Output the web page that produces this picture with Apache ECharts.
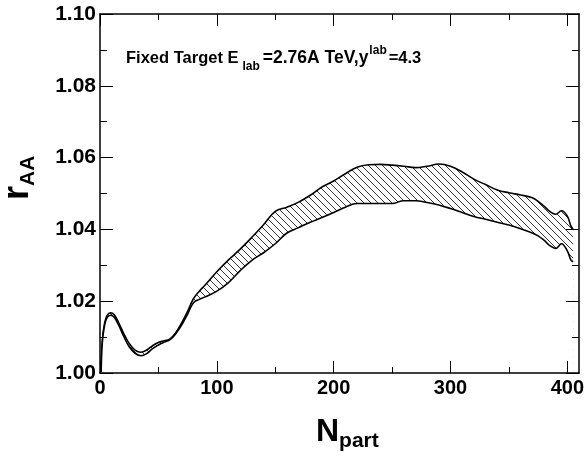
<!DOCTYPE html>
<html>
<head>
<meta charset="utf-8">
<script src="https://cdn.jsdelivr.net/npm/echarts@6/dist/echarts.min.js"></script>
<style>
html,body{margin:0;padding:0;background:#fff;}
#main{width:587px;height:456px;}
</style>
</head>
<body>
<div id="main"></div>
<script>
// ---- data ----
const nPart = [1, 2, 4, 6, 9, 12, 16, 20, 25, 30, 35, 40, 45, 50, 55, 60, 65, 70, 75, 80, 85, 90, 100, 110, 120, 130, 140, 150, 160, 170, 180, 190, 200, 210, 220, 230, 240, 250, 260, 270, 280, 290, 300, 310, 320, 330, 340, 350, 360, 370, 375, 380, 385, 390, 395, 400, 403, 405];
const upperR = [1.0005, 1.0091, 1.0140, 1.0160, 1.0168, 1.0163, 1.0140, 1.0112, 1.0082, 1.0064, 1.0058, 1.0064, 1.0076, 1.0085, 1.0090, 1.0095, 1.0113, 1.0140, 1.0172, 1.0207, 1.0228, 1.0245, 1.0282, 1.0315, 1.0345, 1.0378, 1.0413, 1.0450, 1.0462, 1.0476, 1.0495, 1.0518, 1.0535, 1.0555, 1.0573, 1.0580, 1.0581, 1.0579, 1.0576, 1.0572, 1.0576, 1.0582, 1.0576, 1.0560, 1.0540, 1.0525, 1.0510, 1.0502, 1.0496, 1.0488, 1.0478, 1.0465, 1.0450, 1.0442, 1.0452, 1.0437, 1.0410, 1.0400];
const lowerR = [1.0003, 1.0085, 1.0134, 1.0154, 1.0161, 1.0156, 1.0133, 1.0104, 1.0073, 1.0055, 1.0048, 1.0054, 1.0068, 1.0078, 1.0086, 1.0093, 1.0110, 1.0134, 1.0164, 1.0196, 1.0205, 1.0212, 1.0228, 1.0252, 1.0285, 1.0314, 1.0335, 1.0360, 1.0390, 1.0405, 1.0420, 1.0433, 1.0447, 1.0462, 1.0472, 1.0472, 1.0472, 1.0472, 1.0480, 1.0480, 1.0475, 1.0468, 1.0458, 1.0447, 1.0436, 1.0428, 1.0420, 1.0412, 1.0402, 1.0390, 1.0382, 1.0370, 1.0355, 1.0347, 1.0360, 1.0340, 1.0315, 1.0310];
const xMajorTicks = [0, 100, 200, 300, 400];
const xMinorTicks = [50, 150, 250, 350];

const FONT = '"Liberation Sans", Arial, Helvetica, sans-serif';

// hatch pattern
function hatch() {
  const s = 7;
  const c = document.createElement('canvas');
  c.width = s; c.height = s;
  const g = c.getContext('2d');
  g.strokeStyle = '#000';
  g.lineWidth = 0.8;
  g.beginPath();
  g.moveTo(-1, -1); g.lineTo(s + 1, s + 1);
  g.moveTo(-1, s - 1); g.lineTo(1, s + 1);
  g.moveTo(s - 1, -1); g.lineTo(s + 1, 1);
  g.stroke();
  return c;
}

const upperData = nPart.map((n, i) => [n, upperR[i]]);
const lowerData = nPart.map((n, i) => [n, lowerR[i]]);

const chart = echarts.init(document.getElementById('main'), null, { renderer: 'canvas' });
const axisLineStyle = { color: '#000', width: 1.5 };
const labelStyle = { color: '#000', fontFamily: FONT, fontWeight: 'bold', fontSize: 20 };
const tickStyle = { color: '#000', width: 1 };

function rich(mainSize, lh, extra) {
  const r = {
    m: { fontFamily: FONT, fontWeight: 'bold', fontSize: mainSize, lineHeight: lh, verticalAlign: 'middle', fill: '#000' }
  };
  Object.keys(extra).forEach(k => { r[k] = Object.assign({ fontFamily: FONT, fontWeight: 'bold', fill: '#000' }, extra[k]); });
  return r;
}

chart.setOption({
  animation: false,
  backgroundColor: '#fff',
  grid: { left: 100, right: 6, top: 14, bottom: 83, containLabel: false },
  xAxis: [
    { type: 'value', position: 'bottom', min: 0, max: 410, z: 10,
      axisLine: { show: true, onZero: false, lineStyle: axisLineStyle },
      axisTick: { show: true, inside: true, length: 12, customValues: xMajorTicks, lineStyle: tickStyle },
      axisLabel: { show: true, customValues: xMajorTicks, margin: 5, ...labelStyle, formatter: v => String(v) },
      splitLine: { show: false } },
    { type: 'value', position: 'bottom', min: 0, max: 410, z: 10,
      axisLine: { show: false },
      axisTick: { show: true, inside: true, length: 6, customValues: xMinorTicks, lineStyle: tickStyle },
      axisLabel: { show: false }, splitLine: { show: false } },
    { type: 'value', position: 'top', min: 0, max: 410, z: 10,
      axisLine: { show: true, onZero: false, lineStyle: axisLineStyle },
      axisTick: { show: true, inside: true, length: 12, customValues: xMajorTicks, lineStyle: tickStyle },
      axisLabel: { show: false }, splitLine: { show: false } },
    { type: 'value', position: 'top', min: 0, max: 410, z: 10,
      axisLine: { show: false },
      axisTick: { show: true, inside: true, length: 6, customValues: xMinorTicks, lineStyle: tickStyle },
      axisLabel: { show: false }, splitLine: { show: false } }
  ],
  yAxis: [
    { type: 'value', position: 'left', min: 1.0, max: 1.1, interval: 0.02, z: 10,
      axisLine: { show: true, onZero: false, lineStyle: axisLineStyle },
      axisTick: { show: true, inside: true, length: 13, lineStyle: tickStyle },
      minorTick: { show: true, splitNumber: 2, length: 7, lineStyle: tickStyle },
      axisLabel: { show: true, margin: 4, ...labelStyle, fontSize: 21, padding: [5, 0, 0, 0], formatter: v => v.toFixed(2) },
      splitLine: { show: false } },
    { type: 'value', position: 'right', min: 1.0, max: 1.1, interval: 0.02, z: 10,
      axisLine: { show: true, onZero: false, lineStyle: axisLineStyle },
      axisTick: { show: true, inside: true, length: 13, lineStyle: tickStyle },
      minorTick: { show: true, splitNumber: 2, length: 7, lineStyle: tickStyle },
      axisLabel: { show: false }, splitLine: { show: false } }
  ],
  series: [
    { type: 'line', name: 'upper', data: upperData, smooth: 0.4, z: 2,
      symbol: 'none', lineStyle: { color: '#000', width: 1.6 },
      areaStyle: { color: { image: hatch(), repeat: 'repeat' }, opacity: 1, origin: 'start' } },
    { type: 'line', name: 'lower', data: lowerData, smooth: 0.4, z: 3,
      symbol: 'none', lineStyle: { color: '#000', width: 1.6 },
      areaStyle: { color: '#fff', opacity: 1, origin: 'start' } }
  ],
  graphic: [
    { type: 'text', x: 126, y: 43, z: 20,
      style: {
        text: '{m|Fixed Target E}{sb|lab}{w|=2.76A TeV,y}{sp|lab}{m|=4.3}',
        rich: rich(16.5, 30, {
          w: { fontSize: 17.5, lineHeight: 30, verticalAlign: 'middle' },
          sb: { fontSize: 12, lineHeight: 12, verticalAlign: 'bottom', padding: [0, 3, 0, 4] },
          sp: { fontSize: 12, lineHeight: 12, verticalAlign: 'top', padding: [2, 2, 0, 1] }
        })
      } },
    { type: 'text', x: -4, y: 200, rotation: Math.PI / 2, z: 20,
      style: {
        text: '{m|r}{sb|AA}',
        rich: rich(36, 44, {
          sb: { fontSize: 21, lineHeight: 21, verticalAlign: 'bottom', padding: [0, 0, 1, 0] }
        })
      } },
    { type: 'text', x: 316, y: 412, z: 20,
      style: {
        text: '{m|N}{sb|part}',
        rich: rich(32, 40, {
          sb: { fontSize: 21, lineHeight: 21, verticalAlign: 'bottom', padding: [0, 0, 0, 0] }
        })
      } }
  ]
});
</script>
</body>
</html>
